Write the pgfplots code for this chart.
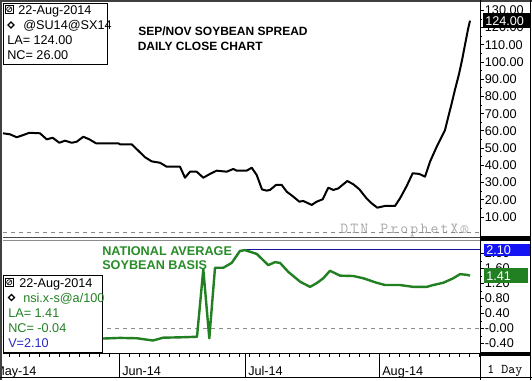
\documentclass[border=0pt]{standalone}
\usepackage{pgfplots}
\pgfplotsset{compat=1.18}
\usepackage{fontspec}
\setmainfont{Liberation Sans}
\definecolor{dkgreen}{RGB}{34,128,34}
\definecolor{ttlgreen}{RGB}{40,140,40}
\definecolor{boxblue}{RGB}{20,20,245}
\definecolor{navyline}{RGB}{20,20,150}
\definecolor{txtblue}{RGB}{40,40,200}
\newcommand{\lf}{\fontsize{9.5}{10}\selectfont}
\newcommand{\wk}{\kern1.6pt}
\begin{document}
\begin{tikzpicture}[x=0.75pt,y=-0.75pt]
\useasboundingbox (0,0) rectangle (532,380);
\fill[white] (0,0) rectangle (532,380);
% watermark
\node[anchor=base west, inner sep=0pt, text=black!35] at (340,233) {\fontsize{11.5}{11.5}\ttfamily D\wk T\wk N\wk\ \wk P\wk r\wk o\wk p\wk h\wk e\wk t\wk X\wk\textregistered};
% ---------------- top panel ----------------
\begin{axis}[at={(2.25pt,-177pt)}, anchor=south west, scale only axis,
 width=357.75pt, height=174.75pt,
 xmin=3, xmax=480, ymin=-1.05, ymax=134.26,
 axis line style={draw=none},
 xtick=\empty,
 ytick={10,20,...,130},
 yticklabels={10.00,20.00,30.00,40.00,50.00,60.00,70.00,80.00,90.00,100.00,110.00,120.00,130.00},
 minor y tick num=1,
 ytick pos=right, yticklabel pos=right,
 tick align=outside,
 major tick length=3pt, minor tick length=1.5pt,
 tick style={black, line width=0.6pt},
 yticklabel style={font=\lf, anchor=west, inner sep=0pt, xshift=0.5pt},
 clip=false]
\addplot[black!45, dashed, line width=0.6pt] coordinates {(3,0.8) (480,0.8)};
\addplot[black, line width=1.5pt, line join=round] coordinates {
(3,58.6) (10,58) (16.7,56.3) (23.3,57.6) (29.3,58.9) (40,58.6) (46.7,55.1) (52.7,56) (59.3,53.1) (65,54.3) (71.7,53.1) (76.7,53.7) (83.3,56.6) (89.3,55.1) (96,52.8) (118.3,52.8) (120,52.2) (131.7,52.2) (138.3,48.5) (145,44.7) (151.7,42.3) (160,41.5) (166.7,39.2) (180,39.2) (185,32.8) (190,36.3) (196.7,36.3) (203.3,32.8) (210,35) (216.7,36.9) (226.7,36.3) (233.3,37.9) (236.7,36.9) (246.7,36.9) (251.7,38.6) (256.7,34.4) (262,26) (266.7,25.3) (270,25.7) (276,28.6) (281.7,28.6) (286.7,24.7) (293.3,21.8) (299.3,18.9) (303.3,19.3) (311.7,17) (316.7,18.9) (322.7,20.3) (328.3,27) (333.3,25.7) (338.3,26.6) (347.3,30.9) (353.3,29) (359.3,26.1) (366,21.2) (371.7,17.9) (377.3,15.4) (385,16.4) (395,16.4) (400,20.8) (406.7,28) (412.7,35.4) (419.3,35) (425,33.4) (430,42.1) (436.7,50.8) (445,60.5) (451.7,76) (455,84) (459,93) (462,101) (465,110) (468,119) (470,124)};
\end{axis}
% ---------------- bottom panel ----------------
\begin{axis}[at={(2.25pt,-264.75pt)}, anchor=south west, scale only axis,
 width=357.75pt, height=84.75pt,
 xmin=3, xmax=480, ymin=-0.653, ymax=2.36,
 axis line style={draw=none},
 xtick=\empty,
 ytick={-0.4,0,0.4,0.8,1.2,1.6,2.0},
 yticklabels={-0.40,-0.00,0.40,0.80,1.20,1.60,2.00},
 minor y tick num=1,
 ytick pos=right, yticklabel pos=right,
 tick align=outside,
 major tick length=3pt, minor tick length=1.5pt,
 tick style={black, line width=0.6pt},
 yticklabel style={font=\lf, anchor=west, inner sep=0pt, xshift=0.5pt},
 clip=false]
\addplot[black!45, dashed, line width=0.6pt] coordinates {(3,0) (480,0)};
\addplot[navyline, line width=0.8pt] coordinates {(245,2.1) (480,2.1)};
\addplot[dkgreen, line width=1.8pt, line join=round] coordinates {
(3,-0.2) (13,-0.22) (33,-0.235) (50,-0.26) (67,-0.26) (77,-0.3) (100,-0.27) (120,-0.25) (137,-0.26) (153,-0.32) (163,-0.245) (180,-0.235) (197,-0.22) (203.3,1.58) (209.3,-0.26) (215,1.62) (223.3,1.62) (231.7,1.75) (240,2.07) (245,2.09) (256.7,1.99) (268.3,1.69) (275,1.77) (280,1.75) (288.3,1.51) (300,1.25) (310,1.11) (316.7,1.21) (323.3,1.34) (330,1.54) (340,1.41) (353.3,1.4) (363.3,1.34) (376.7,1.22) (385,1.16) (400,1.16) (413.3,1.11) (426.7,1.11) (433.3,1.16) (443.3,1.22) (453.3,1.34) (460,1.45) (467.3,1.43) (470,1.41)};
\end{axis}
% ---------------- date strip ----------------
\begin{axis}[at={(2.25pt,-283.125pt)}, anchor=south west, scale only axis,
 width=357.75pt, height=18.375pt,
 xmin=3, xmax=480, ymin=0, ymax=1,
 axis line style={draw=none},
 ytick=\empty,
 xtick={-8,119,245,379}, xticklabels={},
 minor xtick={9,19,...,479},
 xtick pos=top, tick align=inside,
 major tick length=18.4pt, minor tick length=3pt,
 tick style={black, line width=0.6pt},
 clip=false]
\node[anchor=base west, inner sep=0pt, font=\lf] at (axis cs:-6,0.09) {May-14};
\node[anchor=base west, inner sep=0pt, font=\lf] at (axis cs:122,0.09) {Jun-14};
\node[anchor=base west, inner sep=0pt, font=\lf] at (axis cs:248,0.09) {Jul-14};
\node[anchor=base west, inner sep=0pt, font=\lf] at (axis cs:382,0.09) {Aug-14};
\end{axis}
% ---------------- frame ----------------
\fill[white] (0,0) rectangle (2,380);
\draw[black!75, line width=1.5pt] (1.2,0)--(1.2,380);
\draw[black!75, line width=1.5pt] (0,1.2)--(532,1.2);
\draw[black, line width=0.75pt] (480,0)--(480,380);
\draw[black, line width=0.75pt] (530.5,0)--(530.5,380);
\draw[black, line width=0.75pt] (0,377.5)--(532,377.5);
\draw[black!70, line width=0.75pt] (3,237.5)--(480,237.5);
\draw[black!45, line width=0.75pt] (3,240.5)--(480,240.5);
\fill[black] (480,235.5) rectangle (531,241);
\draw[black, line width=0.75pt] (3,353)--(480,353);
\fill[black] (480,351.5) rectangle (531,356);
% value flags
\fill[black] (483,13) rectangle (530,28);
\node[anchor=base west, inner sep=0pt, text=white, font=\lf] at (485,25) {124.00};
\fill[boxblue] (484,243.5) rectangle (530,256);
\node[anchor=base west, inner sep=0pt, text=white, font=\lf] at (486,254) {2.10};
\fill[dkgreen] (484,268) rectangle (528,283);
\node[anchor=base west, inner sep=0pt, text=white, font=\lf] at (486,280) {1.41};
\node[anchor=base west, inner sep=0pt] at (487,373) {\fontsize{10}{10}\ttfamily 1 Day};
% titles
\node[anchor=base west, inner sep=0pt] at (138,35) {\fontsize{9}{10}\selectfont\bfseries SEP/NOV SOYBEAN SPREAD};
\node[anchor=base west, inner sep=0pt] at (137.5,50) {\fontsize{9}{10}\selectfont\bfseries DAILY CLOSE CHART};
\node[anchor=base west, inner sep=0pt, text=ttlgreen] at (102,255) {\fontsize{9.5}{10}\selectfont\bfseries NATIONAL AVERAGE};
\node[anchor=base west, inner sep=0pt, text=ttlgreen] at (102,269) {\fontsize{9.5}{10}\selectfont\bfseries SOYBEAN BASIS};
% legend box top
\draw[fill=white, line width=0.75pt] (3,3) rectangle (107,64);
\draw[line width=0.5pt] (5.5,5.5) rectangle (13,13);
\draw[line width=0.5pt] (9.25,9.25) circle (2.6);
\draw[line width=0.5pt] (7.3,11.2)--(11.2,7.3);
\draw[line width=1pt] (11,22)--(14,25)--(11,28)--(8,25)--cycle;
\node[anchor=base west, inner sep=0pt, font=\lf] at (18,14) {22-Aug-2014};
\node[anchor=base west, inner sep=0pt, font=\lf] at (23,29) {@SU14@SX14};
\node[anchor=base west, inner sep=0pt, font=\lf] at (7,44) {LA= 124.00};
\node[anchor=base west, inner sep=0pt, font=\lf] at (7,59) {NC= 26.00};
% legend box bottom
\draw[fill=white, line width=0.75pt] (3,275) rectangle (102,352.5);
\draw[line width=0.5pt] (5.5,278.5) rectangle (13,286);
\draw[line width=0.5pt] (9.25,282.25) circle (2.6);
\draw[line width=0.5pt] (7.3,284.2)--(11.2,280.3);
\draw[line width=1pt] (11.5,294.5)--(14.5,297.5)--(11.5,300.5)--(8.5,297.5)--cycle;
\node[anchor=base west, inner sep=0pt, font=\lf] at (19,287) {22-Aug-2014};
\node[anchor=base west, inner sep=0pt, font=\lf, text=dkgreen] at (23,302) {nsi.x-s@a/100};
\node[anchor=base west, inner sep=0pt, font=\lf, text=dkgreen] at (8,317) {LA= 1.41};
\node[anchor=base west, inner sep=0pt, font=\lf, text=dkgreen] at (8,332) {NC= -0.04};
\node[anchor=base west, inner sep=0pt, font=\lf, text=txtblue] at (8,347) {V=2.10};
\end{tikzpicture}
\end{document}
